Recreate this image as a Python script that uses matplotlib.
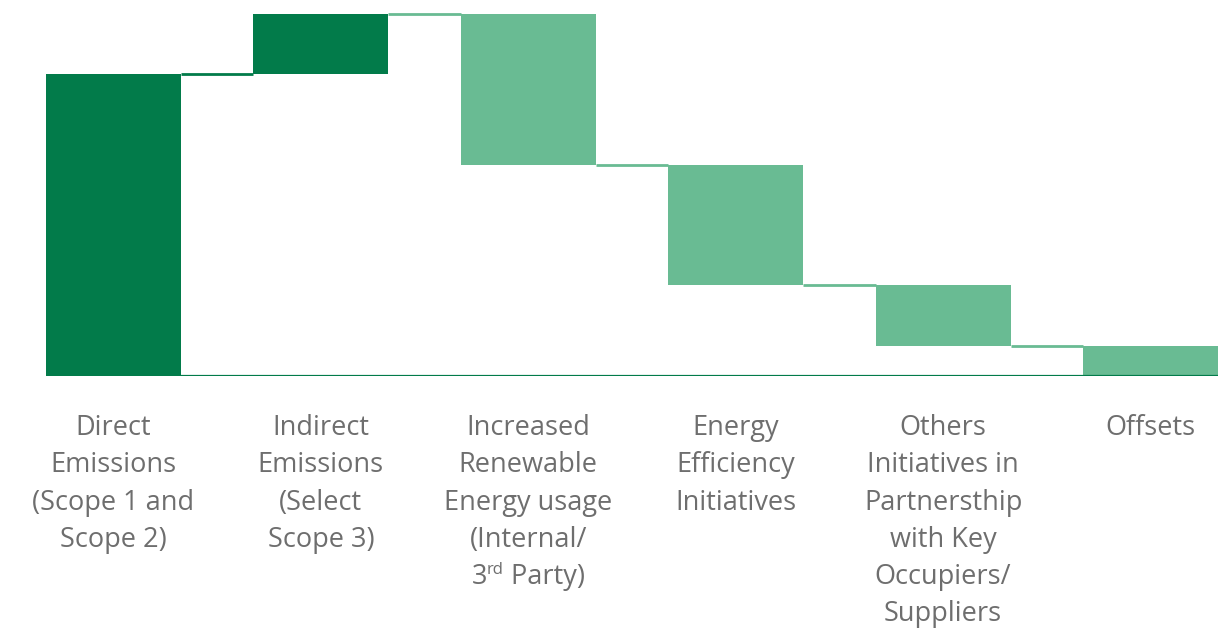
import matplotlib
matplotlib.use("Agg")
import matplotlib.pyplot as plt
import numpy as np

categories = [
    ["Direct", "Emissions", "(Scope 1 and", "Scope 2)"],
    ["Indirect", "Emissions", "(Select", "Scope 3)"],
    ["Increased", "Renewable", "Energy usage", "(Internal/", ("3", "rd", " Party)")],
    ["Energy", "Efficiency", "Initiatives"],
    ["Others", "Initiatives in", "Partnersthip", "with Key", "Occupiers/", "Suppliers"],
    ["Offsets"],
]
changes = [50, 10, -25, -20, -10, -5]
bar_colors = ["#027B4A", "#027B4A", "#69BB93", "#69BB93", "#69BB93", "#69BB93"]

plt.rcParams['font.family'] = ['Open Sans', 'DejaVu Sans']

W, H = 1224, 628
fig = plt.figure(figsize=(W / 100, H / 100), dpi=100)
ax = fig.add_axes([0, (H - 376) / H, 1, 376 / H])

x = np.arange(len(categories))
width = 0.651
starts = np.concatenate([[0], np.cumsum(changes)[:-1]])
ends = np.cumsum(changes)
bottoms = np.minimum(starts, ends)
heights = np.abs(np.array(changes))

ax.bar(x, heights, bottom=bottoms, width=width, color=bar_colors, edgecolor='none', zorder=2)

for i in range(len(categories) - 1):
    lvl = ends[i]
    col = bar_colors[i] if i == 0 else "#69BB93"
    ax.plot([x[i] + width / 2, x[i + 1] - width / 2], [lvl, lvl], color=col, lw=2, zorder=1,
            solid_capstyle='butt')

ax.plot([x[0] - width / 2, x[-1] + width / 2], [0, 0], color="#027B4A", lw=1.6, zorder=3,
        solid_capstyle='butt')

ax.set_xlim(-0.547, 5.354)
ax.set_ylim(0, 62.25)
ax.set_xticks([])
ax.set_yticks([])
for s in ax.spines.values():
    s.set_visible(False)

txt_color = "#6E6E6E"
fs = 19.5
base0 = 435.0
step = 37.3
renderer = fig.canvas.get_renderer()

for i, lines in enumerate(categories):
    cx = ax.transData.transform((x[i], 0))[0]
    for k, line in enumerate(lines):
        yb = 1 - (base0 + step * k) / H
        if isinstance(line, tuple):
            parts = [(line[0], fs, 0), (line[1], 12, 10), (line[2], fs, 0)]
            objs = []
            for s, size, rise in parts:
                t = fig.text(0, 1 - (base0 + step * k - rise) / H, s, fontsize=size,
                             color=txt_color, ha='left', va='baseline')
                objs.append(t)
            widths = [o.get_window_extent(renderer).width for o in objs]
            left = cx - sum(widths) / 2
            for o, w in zip(objs, widths):
                o.set_x(left / W)
                left += w
        else:
            fig.text(cx / W, yb, line, fontsize=fs, color=txt_color, ha='center', va='baseline')

fig.savefig("out.png", dpi=100)
